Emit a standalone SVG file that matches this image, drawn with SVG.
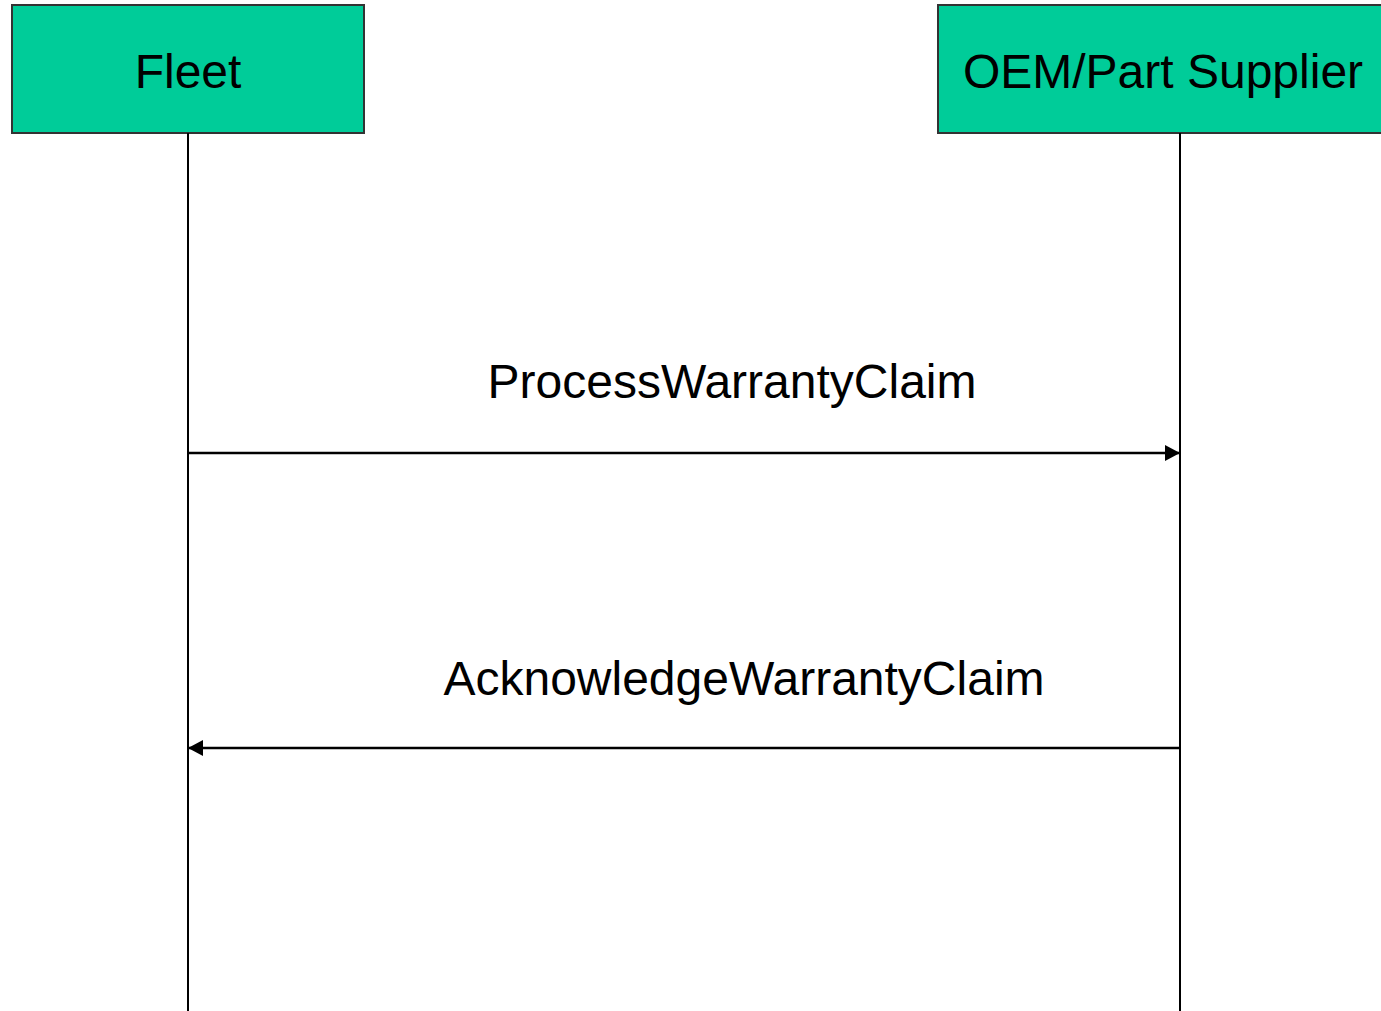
<svg xmlns="http://www.w3.org/2000/svg" width="1381" height="1011" viewBox="0 0 1381 1011">
<style>
.box{fill:#00CC99;stroke:#333333;stroke-width:2}
.lbl{font-family:"Liberation Sans",Arial,sans-serif;font-size:48px;fill:#000;text-anchor:middle}
.life{stroke:#000;stroke-width:2;fill:none}
.msg{stroke:#000;stroke-width:2.5;fill:none}
</style>
<defs>
<marker id="ah" viewBox="0 0 15 16" refX="15" refY="8" markerWidth="15" markerHeight="16" markerUnits="userSpaceOnUse" orient="auto">
<path d="M0,0 L15,8 L0,16 Z" fill="#000"/>
</marker>
</defs>
<rect width="1381" height="1011" fill="#fff"/>
<g id="fleet">
<rect class="box" x="12" y="5" width="352" height="128"/>
<text class="lbl" x="188" y="88">Fleet</text>
</g>
<g id="oem">
<rect class="box" x="938" y="5" width="450" height="128"/>
<text class="lbl" x="1163" y="88">OEM/Part Supplier</text>
</g>
<g id="connectors">
<line class="life" x1="188" y1="133" x2="188" y2="1011"/>
<line class="life" x1="1180" y1="133" x2="1180" y2="1011"/>
<line class="msg" x1="188" y1="453" x2="1180" y2="453" marker-end="url(#ah)"/>
<text class="lbl" x="732" y="398">ProcessWarrantyClaim</text>
<line class="msg" x1="1180" y1="748" x2="188" y2="748" marker-end="url(#ah)"/>
<text class="lbl" x="744" y="695">AcknowledgeWarrantyClaim</text>
</g>
</svg>
